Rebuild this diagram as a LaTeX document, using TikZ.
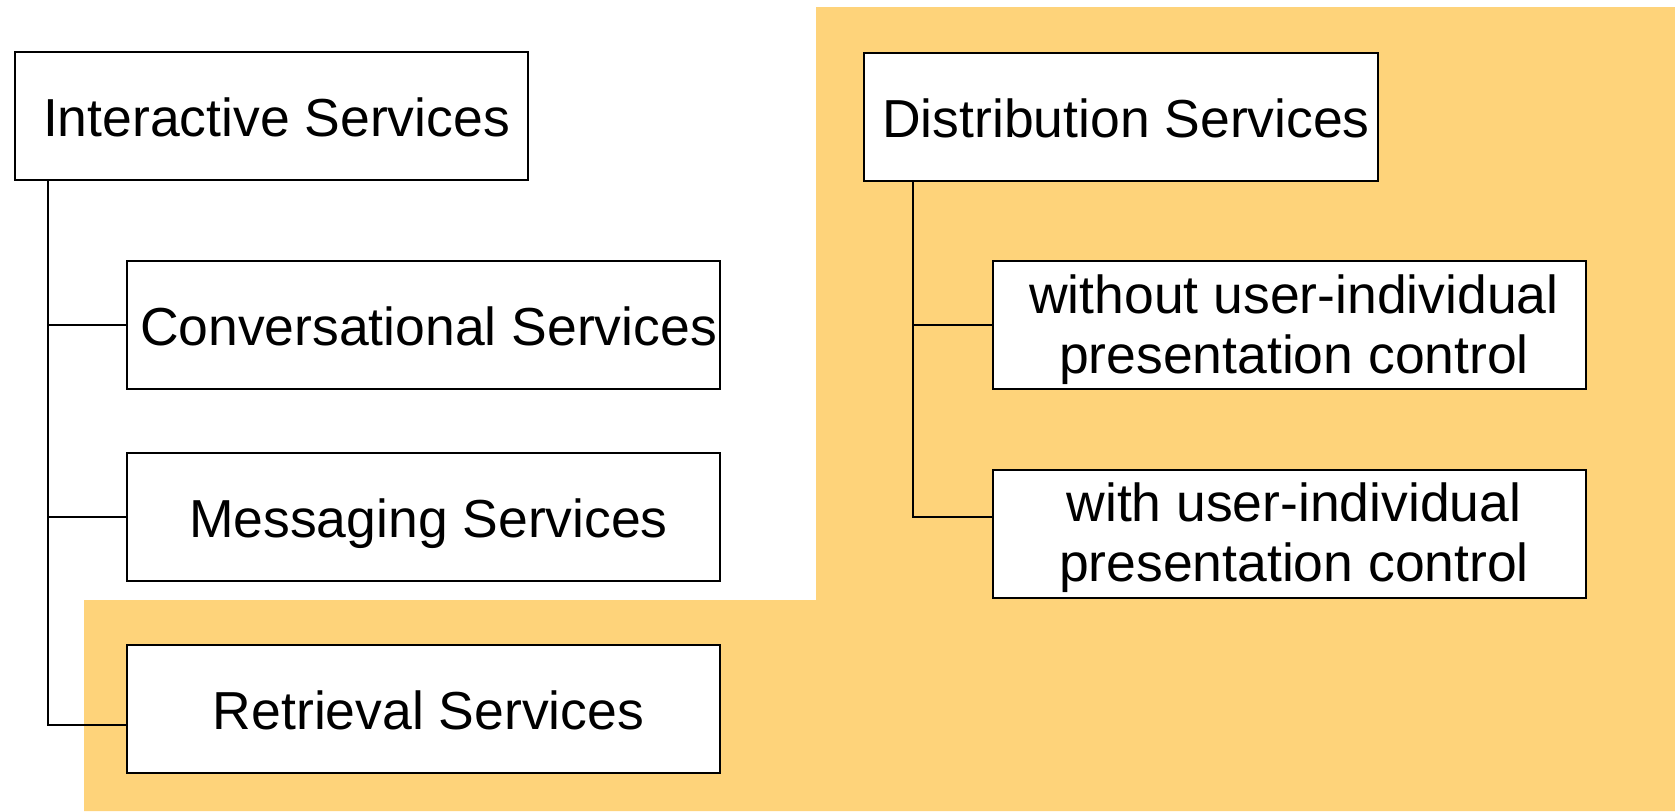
\documentclass[tikz,border=0pt]{standalone}
\usepackage{fontspec}
\setmainfont{Liberation Sans}
\definecolor{peach}{RGB}{254,211,122}
\newcommand{\lpad}{\hspace*{5pt}}
\begin{document}
\begin{tikzpicture}[x=0.5pt,y=-0.5pt]
    \tikzstyle{every node}+=[font=\fontsize{26.75}{30}\selectfont]
    \tikzstyle{box}=[draw=black, line width=1pt, fill=white, inner sep=0pt, align=center, minimum height=64pt, text height=21pt, text depth=0.3pt]
    \tikzstyle{wide}=[box, minimum width=296.5pt]
    \tikzstyle{narrow}=[box, minimum width=256.75pt]
    \tikzstyle{twoline}=[wide, text height=50pt, text depth=2pt]
    \tikzstyle{link}=[black, line width=1pt]
    \useasboundingbox (0,0) rectangle (1675,811);
    \fill [peach] (84,811) -- (84,600) -- (816,600) -- (816,7) -- (1675,7) -- (1675,811) -- cycle;
    % interactive side
    \node [narrow] (inter) at (271.5,116) {\lpad Interactive Services};
    \node [wide] (conv) at (423.5,325) {\lpad Conversational Services};
    \node [wide] (mess) at (423.5,517) {\lpad Messaging Services};
    \node [wide] (retr) at (423.5,709) {\lpad Retrieval Services};
    \coordinate (itrunk) at (48,725);
    \draw [link] (inter.south -| itrunk) -- (itrunk) -- (retr.west |- itrunk);
    \draw [link] (conv.west) -- (conv.west -| itrunk);
    \draw [link] (mess.west) -- (mess.west -| itrunk);
    % distribution side
    \node [narrow] (dist) at (1121,116.5) {\lpad Distribution Services};
    \node [twoline] (without) at (1289,325) {\lpad without user-individual\\\lpad presentation control};
    \node [twoline] (with) at (1289,533.5) {\lpad with user-individual\\\lpad presentation control};
    \coordinate (dtrunk) at (913,517);
    \draw [link] (dist.south -| dtrunk) -- (dtrunk) -- (with.west |- dtrunk);
    \draw [link] (without.west) -- (without.west -| dtrunk);
\end{tikzpicture}
\end{document}
